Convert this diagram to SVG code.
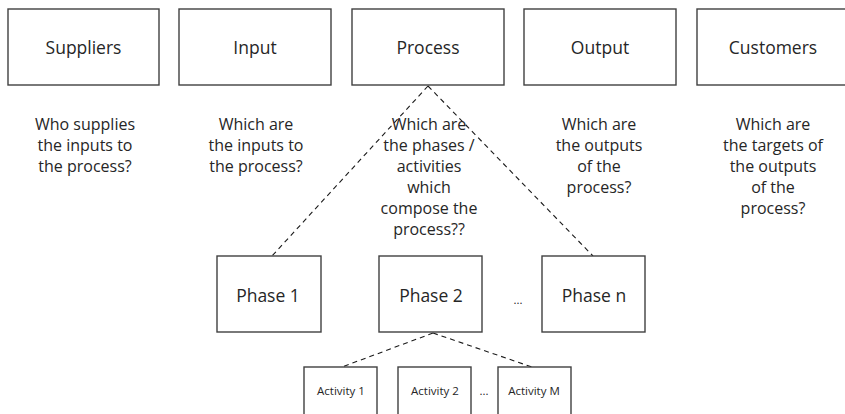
<svg xmlns="http://www.w3.org/2000/svg" width="845" height="414" viewBox="0 0 845 414">
  <style>
    .box { fill: #ffffff; stroke: #404040; stroke-width: 1.4; }
    .title { font-family: "Open Sans", "Liberation Sans", sans-serif; font-size: 17.5px; fill: #262626; text-anchor: middle; }
    .q { font-family: "Open Sans", "Liberation Sans", sans-serif; font-size: 16px; fill: #262626; text-anchor: middle; }
    .phase { font-family: "Open Sans", "Liberation Sans", sans-serif; font-size: 17.5px; fill: #262626; text-anchor: middle; }
    .act { font-family: "Open Sans", "Liberation Sans", sans-serif; font-size: 11.5px; fill: #262626; text-anchor: middle; }
    .dash { fill: none; stroke: #1a1a1a; stroke-width: 1.1; stroke-dasharray: 5 4; }
  </style>
  <rect width="845" height="414" fill="#ffffff"/>

  <!-- connectors: process to phases, phase 2 to activities -->
  <g id="connectors">
    <line class="dash" x1="428" y1="86" x2="272" y2="256"/>
    <line class="dash" x1="428" y1="86" x2="593" y2="256"/>
    <line class="dash" x1="433" y1="333" x2="342" y2="367"/>
    <line class="dash" x1="433" y1="333" x2="532" y2="367"/>
  </g>

  <!-- top row: SIPOC elements -->
  <g id="suppliers">
    <rect class="box" x="8" y="9" width="151" height="76"/>
    <text class="title" x="83.5" y="54">Suppliers</text>
    <text class="q" x="85" y="130">Who supplies</text>
    <text class="q" x="85" y="151">the inputs to</text>
    <text class="q" x="85" y="172">the process?</text>
  </g>
  <g id="input">
    <rect class="box" x="179" y="9" width="152" height="76"/>
    <text class="title" x="255" y="54">Input</text>
    <text class="q" x="256" y="130">Which are</text>
    <text class="q" x="256" y="151">the inputs to</text>
    <text class="q" x="256" y="172">the process?</text>
  </g>
  <g id="process">
    <rect class="box" x="352" y="9" width="152" height="76"/>
    <text class="title" x="428" y="54">Process</text>
    <text class="q" x="429" y="130">Which are</text>
    <text class="q" x="429" y="151">the phases /</text>
    <text class="q" x="429" y="172">activities</text>
    <text class="q" x="429" y="193">which</text>
    <text class="q" x="429" y="214">compose the</text>
    <text class="q" x="429" y="235">process??</text>
  </g>
  <g id="output">
    <rect class="box" x="524" y="9" width="152" height="76"/>
    <text class="title" x="600" y="54">Output</text>
    <text class="q" x="599" y="130">Which are</text>
    <text class="q" x="599" y="151">the outputs</text>
    <text class="q" x="599" y="172">of the</text>
    <text class="q" x="599" y="193">process?</text>
  </g>
  <g id="customers">
    <rect class="box" x="697" y="9" width="152" height="76"/>
    <text class="title" x="773" y="54">Customers</text>
    <text class="q" x="773" y="130">Which are</text>
    <text class="q" x="773" y="151">the targets of</text>
    <text class="q" x="773" y="172">the outputs</text>
    <text class="q" x="773" y="193">of the</text>
    <text class="q" x="773" y="214">process?</text>
  </g>

  <!-- middle row: phases -->
  <g id="phase-1">
    <rect class="box" x="217" y="256" width="104" height="76"/>
    <text class="phase" x="268" y="302">Phase 1</text>
  </g>
  <g id="phase-2">
    <rect class="box" x="379" y="256" width="103" height="76"/>
    <text class="phase" x="431" y="302">Phase 2</text>
  </g>
  <text class="act" x="518" y="304">...</text>
  <g id="phase-n">
    <rect class="box" x="542" y="256" width="103" height="76"/>
    <text class="phase" x="594" y="302">Phase n</text>
  </g>

  <!-- bottom row: activities -->
  <g id="activity-1">
    <rect class="box" x="304" y="367" width="73" height="60"/>
    <text class="act" x="341" y="395">Activity 1</text>
  </g>
  <g id="activity-2">
    <rect class="box" x="398" y="367" width="73" height="60"/>
    <text class="act" x="435" y="395">Activity 2</text>
  </g>
  <text class="act" x="484" y="395">...</text>
  <g id="activity-m">
    <rect class="box" x="498" y="367" width="73" height="60"/>
    <text class="act" x="534" y="395">Activity M</text>
  </g>
</svg>
